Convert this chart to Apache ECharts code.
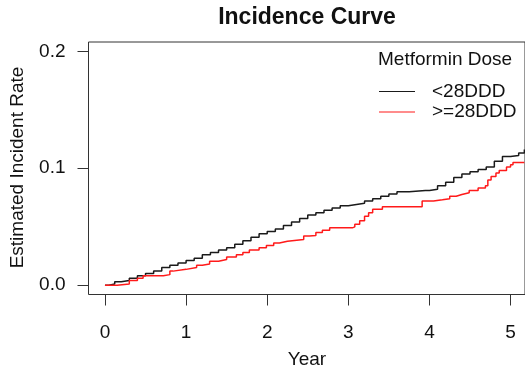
<!DOCTYPE html>
<html>
<head>
<meta charset="utf-8">
<script src="https://cdn.jsdelivr.net/npm/echarts@6/dist/echarts.min.js"></script>
<style>
html,body{margin:0;padding:0;background:#fff;}
#chart{width:525px;height:373px;}
</style>
</head>
<body>
<div id="chart"></div>
<script>
// ---- Data ----
const seriesNames = ['<28DDD', '>=28DDD'];
const lowYears = [0, 0.05, 0.12, 0.2, 0.3, 0.4, 0.5, 0.6, 0.7, 0.8, 0.9, 1.0, 1.1, 1.2, 1.3, 1.4, 1.5, 1.6, 1.7, 1.8, 1.9, 2.0, 2.1, 2.2, 2.3, 2.4, 2.5, 2.6, 2.7, 2.8, 2.9, 3.0, 3.1, 3.2, 3.3, 3.4, 3.5, 3.6, 3.75, 3.95, 4.0, 4.1, 4.2, 4.3, 4.4, 4.5, 4.6, 4.7, 4.8, 4.9, 5.0, 5.1, 5.17];
const lowRate  = [0, 0.001, 0.003, 0.004, 0.006, 0.008, 0.010, 0.012, 0.015, 0.017, 0.019, 0.021, 0.023, 0.026, 0.028, 0.030, 0.032, 0.035, 0.038, 0.041, 0.044, 0.046, 0.048, 0.051, 0.054, 0.057, 0.060, 0.062, 0.064, 0.066, 0.068, 0.069, 0.070, 0.072, 0.074, 0.076, 0.078, 0.080, 0.081, 0.081, 0.082, 0.085, 0.088, 0.092, 0.095, 0.097, 0.099, 0.101, 0.106, 0.110, 0.111, 0.113, 0.116];
const highYears = [0, 0.15, 0.3, 0.4, 0.47, 0.72, 0.8, 0.84, 1.0, 1.13, 1.2, 1.29, 1.4, 1.5, 1.62, 1.7, 1.78, 1.9, 1.99, 2.08, 2.15, 2.25, 2.45, 2.52, 2.6, 2.68, 2.77, 3.05, 3.08, 3.14, 3.2, 3.25, 3.3, 3.42, 3.91, 4.05, 4.16, 4.25, 4.33, 4.4, 4.49, 4.6, 4.69, 4.72, 4.76, 4.82, 4.86, 4.95, 5.0, 5.03, 5.17];
const highRate  = [0, 0.001, 0.004, 0.006, 0.008, 0.009, 0.012, 0.0135, 0.015, 0.017, 0.018, 0.0205, 0.022, 0.024, 0.026, 0.028, 0.030, 0.032, 0.034, 0.036, 0.0376, 0.039, 0.042, 0.0425, 0.045, 0.047, 0.049, 0.0499, 0.052, 0.055, 0.059, 0.062, 0.065, 0.067, 0.072, 0.073, 0.074, 0.076, 0.0775, 0.079, 0.081, 0.083, 0.085, 0.090, 0.093, 0.096, 0.098, 0.101, 0.103, 0.105, 0.105];
const xTicks = [0, 1, 2, 3, 4, 5];
const yTicks = [0, 0.1, 0.2];
const titleText = 'Incidence Curve';
const xName = 'Year';
const yName = 'Estimated Incident Rate';
const legendTitle = 'Metformin Dose';

const FONT = '"Liberation Sans", Arial, Helvetica, sans-serif';
const zip = (a, b) => a.map((v, i) => [v, b[i]]);

const chart = echarts.init(document.getElementById('chart'), null, {renderer: 'canvas'});
chart.setOption({
  animation: false,
  backgroundColor: '#ffffff',
  textStyle: {fontFamily: FONT},
  grid: {
    left: 88.5, top: 42, right: -1, bottom: 78.5,
    show: true, borderColor: '#333', borderWidth: 1, backgroundColor: 'transparent'
  },
  xAxis: {
    type: 'value', min: -0.203, max: 5.178,
    splitLine: {show: false},
    axisLine: {show: false, onZero: false},
    axisTick: {show: true, length: 11, inside: false, customValues: xTicks, lineStyle: {color: '#333', width: 1}},
    axisLabel: {show: true, customValues: xTicks, margin: 29, fontSize: 19, color: '#111', fontFamily: FONT,
      formatter: v => String(v)}
  },
  yAxis: {
    type: 'value', min: -0.008, max: 0.208,
    splitLine: {show: false},
    axisLine: {show: false, onZero: false},
    axisTick: {show: true, length: 11, inside: false, customValues: yTicks, lineStyle: {color: '#333', width: 1}},
    axisLabel: {show: true, customValues: yTicks, margin: 23, fontSize: 19, color: '#111', fontFamily: FONT,
      formatter: v => v.toFixed(1)}
  },
  legend: {
    orient: 'vertical', left: 379, top: 82, padding: 0,
    itemWidth: 36, itemHeight: 14, itemGap: 1.5,
    textStyle: {fontSize: 19, color: '#111', fontFamily: FONT, padding: [0, 0, 0, 12]},
    data: seriesNames.map(n => ({name: n, icon: 'path://M0,0 L36,0 L36,1 L0,1 Z'})),
    itemStyle: {borderWidth: 0},
    selectedMode: false
  },
  graphic: [
    {type: 'text', x: 307, y: 17.5, style: {text: titleText, fontSize: 23, fontWeight: 'bold', fontFamily: FONT, fill: '#111', align: 'center', verticalAlign: 'middle'}},
    {type: 'text', x: 307, y: 360, style: {text: xName, fontSize: 19, fontFamily: FONT, fill: '#111', align: 'center', verticalAlign: 'middle'}},
    {type: 'text', x: 17.5, y: 167.5, rotation: Math.PI / 2, style: {text: yName, fontSize: 19, fontFamily: FONT, fill: '#111', align: 'center', verticalAlign: 'middle'}},
    {type: 'text', x: 378, y: 60, style: {text: legendTitle, fontSize: 19, fontFamily: FONT, fill: '#111', align: 'left', verticalAlign: 'middle'}}
  ],
  series: [
    {name: seriesNames[0], type: 'line', step: 'end', showSymbol: false, symbol: 'none',
      data: zip(lowYears, lowRate), lineStyle: {color: '#1a1a1a', width: 1.5}, itemStyle: {color: '#1a1a1a'}},
    {name: seriesNames[1], type: 'line', step: 'end', showSymbol: false, symbol: 'none',
      data: zip(highYears, highRate), lineStyle: {color: '#ff1a1a', width: 1.5}, itemStyle: {color: '#ff1a1a'}}
  ]
});
</script>
</body>
</html>
